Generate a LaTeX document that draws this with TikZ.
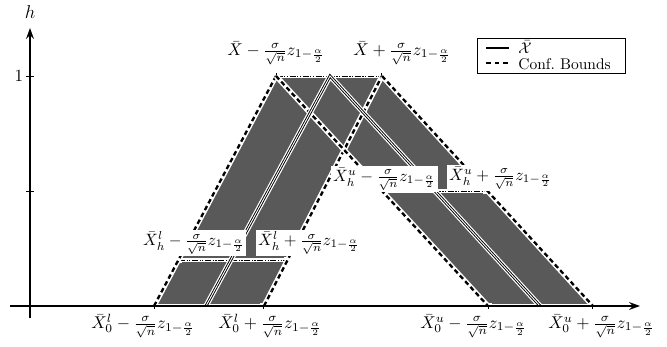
\RequirePackage{fix-cm}
\documentclass[tikz,border=0pt]{standalone}
\usepackage{amsmath}
\usetikzlibrary{arrows.meta}
\begin{document}
\begin{tikzpicture}[x=0.645pt,y=-0.645pt,
  graybox/.style={fill=black!65},
  bound/.style={preaction={draw=white, line width=3.4pt, solid}, draw=black, line width=1.5pt, dash pattern=on 3pt off 2pt},
  centerline/.style={preaction={draw=white, line width=3.4pt}, draw=black, double=white, double distance=0.6pt, line width=0.6pt},
  levelline/.style={preaction={draw=white, line width=2.6pt, solid}, draw=black, line width=0.5pt, dash pattern=on 4pt off 1pt on 0.7pt off 1pt on 0.7pt off 1pt, {Bar[width=4pt]}-{Bar[width=4pt]}},
  lab/.style={fill=white, inner sep=1.2pt, anchor=west, font=\fontsize{10.6}{12.5}\selectfont},
  blab/.style={inner sep=0pt, anchor=west, font=\fontsize{11}{13}\selectfont},
  axis/.style={line width=1.1pt, -{Stealth[length=7pt,width=5pt]}}]
\useasboundingbox (0,0) rectangle (667,347);
% key points
\coordinate (L10) at (154,306);
\coordinate (L1a) at (178.4,260);
\coordinate (L11) at (276,76);
\coordinate (R10) at (264,306);
\coordinate (R1a) at (287.6,260);
\coordinate (R11) at (382,76);
\coordinate (C10) at (206,306);
\coordinate (C11) at (330,76);
\coordinate (C20) at (540,306);
\coordinate (L20) at (488,306);
\coordinate (L2b) at (382,191);
\coordinate (R20) at (593,306);
\coordinate (R2b) at (487.5,191);
% gray bands
\fill[graybox] (L10) -- (R10) -- (R11) -- (L11) -- cycle;
\fill[graybox] (L11) -- (R11) -- (R20) -- (L20) -- cycle;
% level lines
\draw[levelline] (L10) -- (R10);
\draw[levelline] (L20) -- (R20);
\draw[levelline] (L1a) -- (R1a);
\draw[levelline] (L2b) -- (R2b);
\draw[levelline] (L11) -- (R11);
% bounds
\draw[bound] (L10) -- (L11);
\draw[bound] (R10) -- (R11);
\draw[bound] (L11) -- (L20);
\draw[bound] (R11) -- (R20);
% center
\draw[centerline] (C10) -- (C11) -- (C20);
% labels
\node[blab] (t1) at (227,53) {$\bar{X}-\frac{\sigma}{\sqrt{n}}z_{1-\frac{\alpha}{2}}$};
\node[blab] (t2) at (353,53) {$\bar{X}+\frac{\sigma}{\sqrt{n}}z_{1-\frac{\alpha}{2}}$};
\node[lab] (l1) at (141,243) {$\bar{X}_h^l-\frac{\sigma}{\sqrt{n}}z_{1-\frac{\alpha}{2}}$};
\node[lab] (l2) at (256,243) {$\bar{X}_h^l+\frac{\sigma}{\sqrt{n}}z_{1-\frac{\alpha}{2}}$};
\node[lab] (u1) at (331,179) {$\bar{X}_h^u-\frac{\sigma}{\sqrt{n}}z_{1-\frac{\alpha}{2}}$};
\node[lab] (u2) at (447,178) {$\bar{X}_h^u+\frac{\sigma}{\sqrt{n}}z_{1-\frac{\alpha}{2}}$};
% axes
\coordinate (xs) at (10,306);
\coordinate (xe) at (640,306);
\coordinate (ys) at (30,318);
\coordinate (ye) at (30,28);
\draw[axis] (xs) -- (xe);
\draw[axis] (ys) -- (ye);
\coordinate (tk1a) at (26,76); \coordinate (tk1b) at (34,76);
\coordinate (tk2a) at (26,191); \coordinate (tk2b) at (34,191);
\draw[line width=0.5pt] (tk1a) -- (tk1b);
\draw[line width=0.5pt] (tk2a) -- (tk2b);
\node[font=\fontsize{11}{13}\selectfont] (one) at (19,76) {$1$};
\node[font=\fontsize{12}{14}\selectfont] (hl) at (30,12) {$h$};
\node[blab] (b1) at (91,326) {$\bar{X}_0^l-\frac{\sigma}{\sqrt{n}}z_{1-\frac{\alpha}{2}}$};
\node[blab] (b2) at (218,326) {$\bar{X}_0^l+\frac{\sigma}{\sqrt{n}}z_{1-\frac{\alpha}{2}}$};
\node[blab] (b3) at (420,326) {$\bar{X}_0^u-\frac{\sigma}{\sqrt{n}}z_{1-\frac{\alpha}{2}}$};
\node[blab] (b4) at (548,326) {$\bar{X}_0^u+\frac{\sigma}{\sqrt{n}}z_{1-\frac{\alpha}{2}}$};
% legend
\node[draw, fill=white, line width=0.5pt, minimum width=148*0.645pt, minimum height=35*0.645pt, inner sep=0pt] (legend) at (551,55.5) {};
\coordinate (la) at (486,48); \coordinate (lb) at (509,48);
\coordinate (lc) at (486,63); \coordinate (ld) at (509,63);
\draw[line width=0.7pt] (la) -- (lb);
\draw[line width=1.4pt, dash pattern=on 3pt off 2.5pt] (lc) -- (ld);
\node[anchor=west, inner sep=0pt] (lx) at (518,47) {$\bar{\mathcal{X}}$};
\node[anchor=west, inner sep=0pt] (lconf) at (518,64) {Conf.\ Bounds};
\end{tikzpicture}
\end{document}
